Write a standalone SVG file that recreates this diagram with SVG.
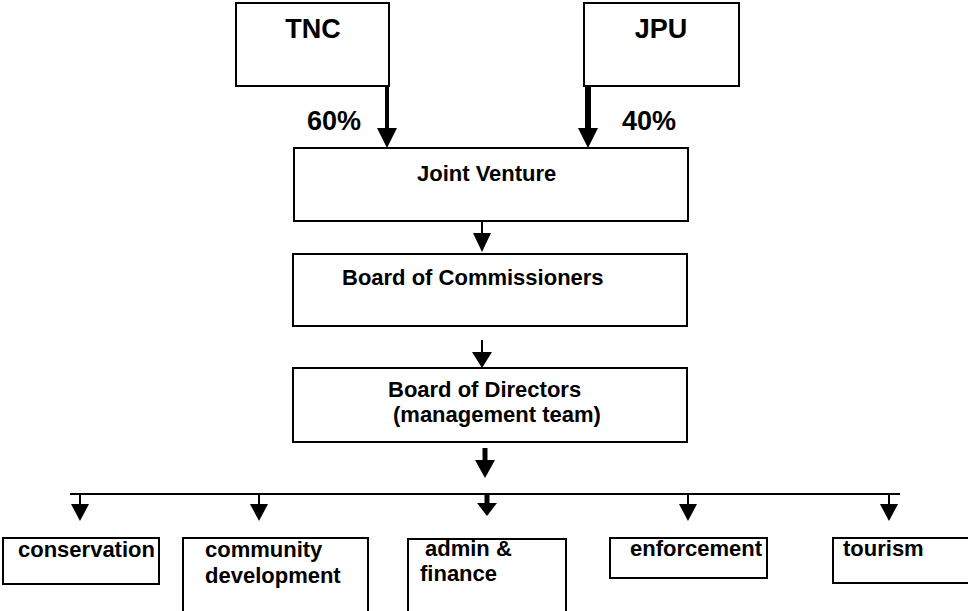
<svg xmlns="http://www.w3.org/2000/svg" width="968" height="611" viewBox="0 0 968 611">
<style>
.box{fill:#fff;stroke:#000;stroke-width:2}
.t{font-family:"Liberation Sans",Arial,sans-serif;font-weight:bold;fill:#000}
.big{font-size:27px}
.mid{font-size:22px}
.ln{stroke:#000;fill:none}
.hd{fill:#000}
</style>
<rect width="968" height="611" fill="#fff"/>
<g id="connectors">
<line class="ln" x1="387" y1="87" x2="387" y2="130" stroke-width="4"/>
<polygon class="hd" points="377,128 397,128 387,148"/>
<line class="ln" x1="588" y1="87" x2="588" y2="130" stroke-width="6"/>
<polygon class="hd" points="578,128 598,128 588,148"/>
<line class="ln" x1="482" y1="221" x2="482" y2="235" stroke-width="2"/>
<polygon class="hd" points="473,233 491,233 482,252"/>
<line class="ln" x1="482" y1="340" x2="482" y2="354" stroke-width="2"/>
<polygon class="hd" points="472,352 492,352 482,368"/>
<line class="ln" x1="485" y1="448" x2="485" y2="462" stroke-width="5"/>
<polygon class="hd" points="475,460 495,460 485,478"/>
<line class="ln" x1="70" y1="494" x2="900" y2="494" stroke-width="2"/>
<line class="ln" x1="80" y1="494" x2="80" y2="506" stroke-width="2"/>
<polygon class="hd" points="71,504 89,504 80,521"/>
<line class="ln" x1="259" y1="494" x2="259" y2="506" stroke-width="2"/>
<polygon class="hd" points="250,504 268,504 259,521"/>
<line class="ln" x1="487" y1="494" x2="487" y2="505" stroke-width="5"/>
<polygon class="hd" points="477,503 497,503 487,516"/>
<line class="ln" x1="688" y1="494" x2="688" y2="506" stroke-width="2"/>
<polygon class="hd" points="679,504 697,504 688,521"/>
<line class="ln" x1="889" y1="494" x2="889" y2="506" stroke-width="2"/>
<polygon class="hd" points="880,504 898,504 889,521"/>
</g>
<g id="tnc"><rect class="box" x="236" y="3" width="153" height="83"/><text class="t big" x="313" y="38" text-anchor="middle">TNC</text></g>
<g id="jpu"><rect class="box" x="584" y="3" width="155" height="83"/><text class="t big" x="661" y="38" text-anchor="middle">JPU</text></g>
<g id="pct60"><text class="t big" x="307" y="130">60%</text></g>
<g id="pct40"><text class="t big" x="622" y="130">40%</text></g>
<g id="jv"><rect class="box" x="294" y="148" width="394" height="73"/><text class="t mid" x="417" y="181">Joint Venture</text></g>
<g id="boc"><rect class="box" x="293" y="254" width="394" height="72"/><text class="t mid" x="342" y="285">Board of Commissioners</text></g>
<g id="bod"><rect class="box" x="293" y="368" width="394" height="74"/><text class="t mid" x="388" y="397">Board of Directors</text><text class="t mid" x="393" y="422">(management team)</text></g>
<g id="conservation"><rect class="box" x="3" y="538" width="156" height="46"/><text class="t mid" x="18" y="557">conservation</text></g>
<g id="community"><rect class="box" x="183" y="538" width="185" height="80"/><text class="t mid" x="205" y="557">community</text><text class="t mid" x="205" y="583">development</text></g>
<g id="admin"><rect class="box" x="408" y="539" width="158" height="80"/><text class="t mid" x="425" y="556">admin &amp;</text><text class="t mid" x="420" y="581">finance</text></g>
<g id="enforcement"><rect class="box" x="610" y="538" width="157" height="40"/><text class="t mid" x="630" y="556">enforcement</text></g>
<g id="tourism"><rect class="box" x="833" y="538" width="140" height="45"/><text class="t mid" x="843" y="556">tourism</text></g>
</svg>
